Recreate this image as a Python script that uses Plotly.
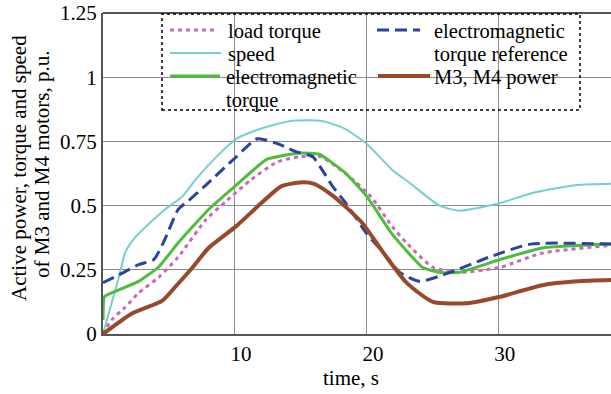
import plotly.graph_objects as go

# ---- data ----
t_speed = [0, 0.65, 1.2, 1.7, 2.5, 3.5, 4.7, 6.0, 7.0, 8.5, 10.1, 12.0, 14.3, 16.5, 18.3, 20.0, 21.9, 23.2, 25.5, 27.0, 28.3, 30.1, 32.6, 35.9, 38.5]
v_speed = [0, 0.12, 0.22, 0.32, 0.38, 0.43, 0.485, 0.535, 0.60, 0.685, 0.76, 0.80, 0.83, 0.83, 0.80, 0.74, 0.64, 0.59, 0.50, 0.48, 0.49, 0.51, 0.55, 0.58, 0.585]

t_ref = [0, 1.2, 2.7, 3.85, 4.7, 5.7, 6.5, 7.8, 10.1, 11.7, 13.3, 14.6, 15.9, 16.6, 17.4, 18.4, 20.0, 21.2, 22.5, 24.0, 26.3, 29.3, 32.4, 38.5]
v_ref = [0.20, 0.23, 0.27, 0.29, 0.37, 0.485, 0.52, 0.58, 0.69, 0.76, 0.74, 0.71, 0.69, 0.64, 0.575, 0.51, 0.39, 0.32, 0.24, 0.205, 0.24, 0.30, 0.35, 0.35]

t_em = [0, 0.1, 0.65, 2.7, 4.2, 5.7, 8.0, 10.1, 12.4, 14.9, 16.4, 18.3, 20.0, 21.9, 24.2, 25.5, 27.0, 30.1, 33.3, 38.5]
v_em = [0.055, 0.145, 0.16, 0.205, 0.26, 0.355, 0.485, 0.58, 0.68, 0.705, 0.70, 0.63, 0.535, 0.39, 0.26, 0.24, 0.24, 0.29, 0.335, 0.35]

t_load = [0, 0.65, 1.7, 2.7, 4.2, 5.7, 7.8, 9.4, 11.2, 13.2, 14.9, 16.5, 18.5, 20.3, 21.9, 23.0, 25.0, 27.0, 30.1, 33.3, 38.5]
v_load = [0, 0.055, 0.105, 0.16, 0.22, 0.30, 0.445, 0.52, 0.60, 0.67, 0.69, 0.69, 0.62, 0.535, 0.42, 0.355, 0.26, 0.24, 0.26, 0.315, 0.345]

t_pow = [0, 2.2, 4.5, 5.5, 6.8, 8.0, 10.1, 12.0, 13.5, 14.9, 16.0, 17.5, 19.6, 21.2, 23.0, 25.0, 27.6, 30.1, 33.3, 35.9, 38.5]
v_pow = [0, 0.08, 0.13, 0.185, 0.26, 0.335, 0.42, 0.51, 0.575, 0.59, 0.585, 0.535, 0.435, 0.32, 0.20, 0.125, 0.12, 0.145, 0.19, 0.205, 0.21]

x_ticks = [10, 20, 30]
y_ticks = [0, 0.25, 0.5, 0.75, 1, 1.25]
y_ticktext = ["0", "0.25", "0.5", "0.75", "1", "1.25"]

FONT = "Liberation Serif"
C_SPEED, C_LOAD, C_EM, C_REF, C_POW = "#74cfd0", "#c86ab8", "#4fbd3c", "#2d439c", "#974a2b"
D_LOAD, D_REF = "4px,4px", "12px,6px"

# layout geometry (pixels)
W, H = 611, 394
L, R, T, B = 103, 0, 13, 60
PW, PH = W - L - R, H - T - B


def px(xp):
    return (xp - L) / PW


def py(yp):
    return (H - B - yp) / PH


fig = go.Figure()
fig.add_trace(go.Scatter(x=t_speed, y=v_speed, mode="lines", name="speed",
                         line=dict(color=C_SPEED, width=2, shape="spline", smoothing=0.6)))
fig.add_trace(go.Scatter(x=t_load, y=v_load, mode="lines", name="load torque",
                         line=dict(color=C_LOAD, width=3, dash=D_LOAD, shape="spline", smoothing=0.6)))
fig.add_trace(go.Scatter(x=t_em, y=v_em, mode="lines", name="electromagnetic torque",
                         line=dict(color=C_EM, width=3, shape="spline", smoothing=0.4)))
fig.add_trace(go.Scatter(x=t_ref, y=v_ref, mode="lines", name="electromagnetic torque reference",
                         line=dict(color=C_REF, width=3, dash=D_REF, shape="spline", smoothing=0.6)))
fig.add_trace(go.Scatter(x=t_pow, y=v_pow, mode="lines", name="M3, M4 power",
                         line=dict(color=C_POW, width=4, shape="spline", smoothing=0.6)))

fig.update_layout(
    width=W, height=H,
    margin=dict(l=L, r=R, t=T, b=B),
    paper_bgcolor="white", plot_bgcolor="white",
    showlegend=False,
    xaxis=dict(range=[0, 38.5], tickvals=x_ticks, ticktext=[str(v) for v in x_ticks],
               showgrid=True, gridcolor="#8c8c8c", gridwidth=1,
               showline=True, linecolor="#555555", linewidth=2, mirror=False,
               ticks="", zeroline=False, ticklabelshift=6,
               tickfont=dict(family=FONT, size=21, color="black")),
    yaxis=dict(range=[0, 1.25], tickvals=y_ticks, ticktext=y_ticktext,
               showgrid=True, gridcolor="#8c8c8c", gridwidth=1,
               showline=True, linecolor="#555555", linewidth=2, mirror=False,
               ticks="", zeroline=False,
               tickfont=dict(family=FONT, size=21, color="black")),
    font=dict(family=FONT, color="black"),
)

# top border line
fig.add_shape(type="line", xref="paper", yref="paper", x0=0, x1=1, y0=1, y1=1,
              line=dict(color="#555555", width=2))
# dotted legend frame
fig.add_shape(type="rect", xref="paper", yref="paper", x0=px(162), x1=px(580), y0=py(110), y1=py(14),
              line=dict(color="black", width=1.5, dash="dot"))

# legend keys (symbol, text lines)
LSTEP = 23
legend_items = [
    (C_LOAD, 3, D_LOAD, 170, 216, 30, ["load torque"], 227),
    (C_SPEED, 2, "solid", 170, 221, 53, ["speed"], 227),
    (C_EM, 3, "solid", 170, 220, 76, ["electromagnetic", "torque"], 225),
    (C_REF, 3, D_REF, 377, 420, 30, ["electromagnetic", "torque reference"], 433),
    (C_POW, 4, "solid", 378, 430, 76, ["M3, M4 power"], 433),
]
for color, width, dash, x0, x1, yk, lines, xt in legend_items:
    fig.add_shape(type="line", xref="paper", yref="paper", x0=px(x0), x1=px(x1), y0=py(yk), y1=py(yk),
                  line=dict(color=color, width=width, dash=dash))
    for i, txt in enumerate(lines):
        fig.add_annotation(text=txt, xref="paper", yref="paper", x=px(xt), y=py(yk + 1 + LSTEP * i),
                           xanchor="left", yanchor="middle", showarrow=False,
                           borderpad=0,
                           font=dict(family=FONT, size=20.5, color="black"))

fig.add_annotation(text="time, s", xref="paper", yref="paper", x=px(351), y=py(378),
                   xanchor="center", yanchor="middle", showarrow=False,
                   font=dict(family=FONT, size=21, color="black"))
fig.add_annotation(text="Active power, torque and speed",
                   xref="paper", yref="paper", x=px(19), y=py(168),
                   xanchor="center", yanchor="middle", showarrow=False, textangle=-90,
                   borderpad=0,
                   font=dict(family=FONT, size=21, color="black"))
fig.add_annotation(text="of M3 and M4 motors, p.u.",
                   xref="paper", yref="paper", x=px(42), y=py(164),
                   xanchor="center", yanchor="middle", showarrow=False, textangle=-90,
                   borderpad=0,
                   font=dict(family=FONT, size=21, color="black"))

fig.write_html("out.html")
